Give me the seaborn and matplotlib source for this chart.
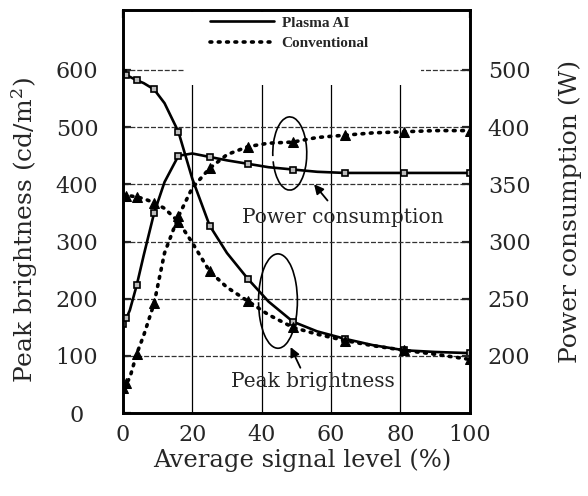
import matplotlib
matplotlib.use("Agg")
import matplotlib.pyplot as plt
from matplotlib.lines import Line2D
from matplotlib.patches import Arc, Rectangle
import seaborn as sns

# average signal level (%) where the curves were read
signal_level = [0, 1, 2, 4, 6, 9, 12, 16, 20, 25, 30, 36, 42, 49, 56, 64, 72, 81, 90, 100]
# measured points (markers)
marker_levels = [0, 1, 4, 9, 16, 25, 36, 49, 64, 81, 100]

# peak brightness (cd/m2), left axis
brightness_ai = [595, 592, 588, 582, 577, 566, 542, 492, 410, 328, 280, 235, 195, 160, 143, 130, 119, 110, 107, 105]
brightness_conv = [380, 380, 380, 378, 375, 368, 358, 335, 298, 248, 220, 196, 172, 150, 138, 127, 118, 110, 103, 94]

# power consumption (W), right axis
power_ai = [228, 233, 240, 262, 288, 325, 352, 375, 377, 374, 371, 368, 365, 363, 361, 360, 360, 360, 360, 360]
power_conv = [172, 176, 181, 202, 218, 246, 290, 322, 347, 364, 376, 383, 386, 387, 391, 393, 395, 396, 397, 397]

left_ticks = [0, 100, 200, 300, 400, 500, 600]
right_ticks = [200, 250, 300, 350, 400, 450]
right_tick_labels = ["200", "250", "300", "350", "400", "500"]
x_ticks = [0, 20, 40, 60, 80, 100]

sns.set_style("white")
plt.rcParams["font.family"] = ["DejaVu Serif"]
plt.rcParams["mathtext.fontset"] = "dejavuserif"

fig = plt.figure(figsize=(5.88, 4.96), dpi=100)
ax = fig.add_axes([0.209, 0.167, 0.590, 0.813])
ax2 = ax.twinx()

marks = [signal_level.index(v) for v in marker_levels]
solid = dict(color="black", linewidth=1.9, linestyle="-")
dotted = dict(color="black", linewidth=2.6, linestyle=(0, (0.5, 1.8)), dash_capstyle="round")
sq = dict(marker="s", markersize=4.5, markerfacecolor="#bbbbbb", markeredgecolor="black",
          markeredgewidth=1.2, markevery=marks)
tri = dict(marker="^", markersize=6.5, markerfacecolor="black", markeredgecolor="black",
           markevery=marks)

sns.lineplot(x=signal_level, y=brightness_ai, ax=ax, **solid, **sq)
sns.lineplot(x=signal_level, y=brightness_conv, ax=ax, **dotted, **tri)
sns.lineplot(x=signal_level, y=power_ai, ax=ax2, **solid, **sq)
sns.lineplot(x=signal_level, y=power_conv, ax=ax2, **dotted, **tri)

ax.set_xlim(0, 100)
ax.set_ylim(0, 705)
ax2.set_ylim(150, 502.5)

# grid
for v in x_ticks[1:-1]:
    ax.axvline(v, color="black", linewidth=0.9, zorder=0)
for v in left_ticks[1:]:
    ax.axhline(v, color="#333333", linewidth=0.9, linestyle=(0, (4, 1.5)), zorder=0)

ax.set_xticks(x_ticks)
ax.set_yticks(left_ticks)
ax2.set_yticks(right_ticks)
ax2.set_yticklabels(right_tick_labels)

ax.tick_params(axis="x", direction="in", length=6, width=1.6, labelsize=16, top=True, pad=8)
ax.tick_params(axis="y", direction="in", length=6, width=1.6, labelsize=16, right=False, pad=33)
for lab in ax.get_yticklabels():
    lab.set_horizontalalignment("center")
ax2.tick_params(axis="y", direction="in", length=6, width=1.6, labelsize=16, pad=13)

for a in (ax, ax2):
    for s in a.spines.values():
        s.set_linewidth(1.9)
        s.set_color("black")

ax.set_xlabel("Average signal level (%)", fontsize=17.5)
ax.xaxis.set_label_coords(0.516, -0.088)
ax.set_ylabel("Peak brightness (cd/m$^2$)", fontsize=18)
ax.yaxis.set_label_coords(-0.238, 0.455)
ax2.set_ylabel("Power consumption (W)", fontsize=18, labelpad=20)

# white area behind the legend
ax2.add_patch(Rectangle((0.18, 0.815), 0.68, 0.18, transform=ax2.transAxes,
                        facecolor="white", edgecolor="none", zorder=1))
handles = [Line2D([], [], **solid), Line2D([], [], **dotted)]
leg = ax2.legend(handles, ["Plasma AI", "Conventional"], loc="upper center",
                 bbox_to_anchor=(0.48, 1.0), borderaxespad=0.0, frameon=False,
                 prop={"family": "Liberation Serif", "weight": "bold", "size": 11},
                 handlelength=4.2, handletextpad=0.5, labelspacing=0.45)
leg.set_zorder(5)

# ellipses and arrows marking each pair of curves
ax2.add_patch(Arc((48.1, 377), 9.8, 64, theta1=235, theta2=205, color="black", linewidth=1.2))
ax.add_patch(Arc((44.7, 196), 11.2, 165, theta1=200, theta2=170, color="black", linewidth=1.2))

ax2.annotate("", xy=(54.6, 352), xytext=(59.5, 334),
             arrowprops=dict(arrowstyle="-|>", color="black", lw=1.3, mutation_scale=14))
ax.annotate("", xy=(48.0, 120), xytext=(51.5, 75),
            arrowprops=dict(arrowstyle="-|>", color="black", lw=1.3, mutation_scale=14))

ax.text(63.4, 342, "Power consumption", fontsize=14.5, ha="center", va="center")
ax.text(54.8, 56, "Peak brightness", fontsize=14.5, ha="center", va="center")

fig.savefig("out.png", dpi=100, facecolor="white")
